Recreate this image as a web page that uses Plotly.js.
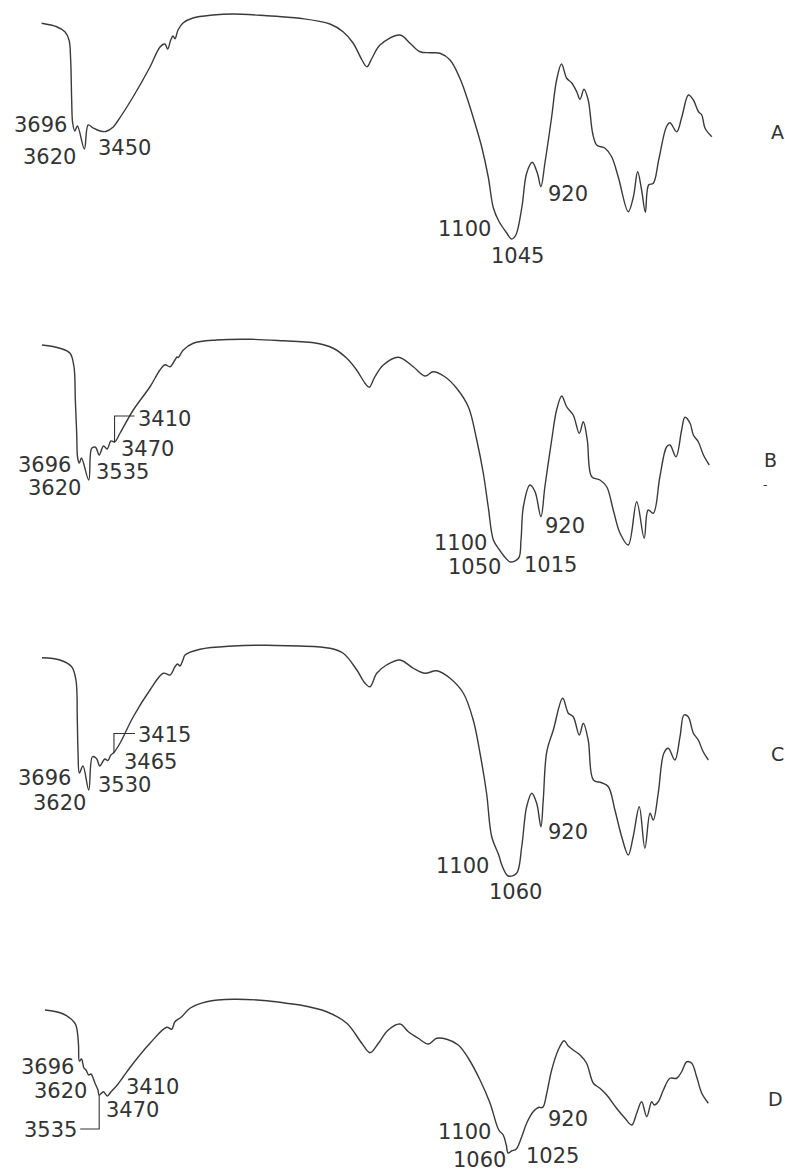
<!DOCTYPE html>
<html>
<head>
<meta charset="utf-8">
<script src="https://cdn.plot.ly/plotly-3.0.1.min.js"></script>
<style>
  html, body { margin: 0; padding: 0; background: #ffffff; }
  #chart { width: 785px; height: 1173px; }
</style>
</head>
<body>
<div id="chart"></div>
<script>
// Infrared spectra A-D: wavenumber (cm-1) and transmittance (arbitrary %, per spectrum)

const wnA = [3960, 3840, 3775, 3742, 3729, 3721, 3713, 3696, 3675, 3620, 3590, 3550, 3495, 3450, 3390, 3360, 3233, 3098, 3018, 2979, 2957, 2933, 2915, 2899, 2875, 2835, 2756, 2597, 2438, 2167, 2000,
  1949, 1821, 1765, 1722, 1684, 1663, 1641, 1607, 1522, 1479, 1436, 1394, 1351, 1308, 1266, 1237, 1202, 1173, 1145, 1123, 1100, 1066, 1045, 1027, 1001, 981, 957, 935, 920, 903, 874, 853, 832, 810, 789, 767, 753, 736, 718, 699, 682, 646, 618, 590, 547, 525, 507, 490, 474, 460, 440, 417, 384, 369, 340, 318, 290, 269, 247, 233, 219, 190];
const tA = [90.7, 89.3, 87.3, 84, 76, 60, 50.8, 47.6, 49.6, 40.4, 50, 48.8, 47.6, 47.4, 49.2, 51.2, 61.2, 73.2, 81.2, 82.4, 80.4, 84, 85.6, 84.5, 88, 90.8, 92.8, 94, 94.4, 93.7, 93.1,
  92.7, 90.4, 87.3, 82.8, 76, 73.3, 76.8, 82, 86, 82.7, 79.3, 78.9, 78.7, 76, 68.7, 61.3, 50.8, 41.3, 29.3, 16.8, 11.6, 6.8, 4.4, 6, 17.3, 30.7, 35.1, 30.7, 25.3, 34.7, 53.3, 68, 74.4, 68.7, 66.9, 63.3, 60.3, 64.3, 60, 46.7, 42, 40.7, 37.3, 29.3, 15.3, 21.3, 31.3, 24, 15.1, 26, 26.7, 36, 49.3, 50.9, 47.3, 53.3, 62, 60, 55.3, 54, 48.7, 45.3];

const wnB = [4000, 3854, 3772, 3740, 3729, 3718, 3710, 3696, 3679, 3620, 3596, 3565, 3535, 3500, 3470, 3440, 3410, 3366, 3258, 3122, 3041, 3000, 2959, 2919, 2902, 2892, 2851, 2770, 2580, 2309, 2038, 2000,
  1877, 1807, 1749, 1707, 1671, 1653, 1629, 1593, 1529, 1465, 1415, 1380, 1330, 1280, 1230, 1194, 1166, 1145, 1123, 1100, 1078, 1050, 1015, 1005, 995, 967, 945, 920, 903, 874, 853, 831, 810, 782, 756, 739, 722, 703, 668, 639, 611, 582, 547, 511, 479, 462, 440, 412, 383, 369, 343, 319, 305, 283, 269, 248, 226, 201];
const tB = [92, 90.7, 88.7, 83.3, 70, 56.7, 46.8, 44.8, 46.8, 38, 50.7, 51.1, 48, 51.6, 50.4, 53.6, 53.2, 56.7, 66, 75.3, 82, 84.1, 83.3, 86, 87.2, 87, 90, 92.7, 94, 94.3, 93.7, 93.6,
  92.7, 90.7, 86.7, 82, 76.7, 75.1, 79.3, 84, 87.1, 83.3, 79.6, 81.3, 79.3, 74.7, 67.3, 54, 40.7, 27.3, 14, 10.4, 7.6, 5.2, 6.8, 14, 27.3, 36, 33.3, 23.3, 35.3, 54, 66, 71.6, 67.3, 64, 56.7, 61.3, 54, 39.3, 38, 35.3, 26, 16.7, 12, 29.3, 14.7, 26, 24.7, 39.3, 51.3, 52, 47.3, 58, 63.1, 60.7, 56, 53.3, 48, 44];

const wnC = [4000, 3854, 3759, 3724, 3713, 3707, 3696, 3667, 3620, 3590, 3557, 3530, 3490, 3465, 3440, 3415, 3366, 3258, 3122, 3014, 2959, 2919, 2898, 2878, 2854, 2837, 2715, 2445, 2173, 2000,
  1949, 1821, 1764, 1706, 1671, 1650, 1621, 1579, 1522, 1465, 1415, 1365, 1308, 1251, 1209, 1180, 1152, 1130, 1100, 1087, 1060, 1024, 1002, 981, 959, 938, 920, 910, 895, 867, 827, 803, 782, 756, 739, 718, 696, 661, 632, 604, 575, 547, 526, 500, 476, 454, 440, 419, 395, 376, 348, 326, 309, 291, 269, 248, 227, 205];
const tC = [89.3, 88.4, 85.7, 80.4, 64.4, 51.2, 43.2, 46, 36.4, 49.7, 49, 46, 48.8, 48.2, 50.4, 51.4, 55.1, 65.7, 76.4, 83.1, 82.4, 85.7, 86.8, 86, 88.4, 90.4, 92.7, 94, 94.3, 94.1,
  94, 93.1, 91.1, 84.4, 79.1, 77.7, 83.1, 86.4, 88.4, 85.1, 83.1, 84.1, 81.1, 75.1, 64.4, 51.1, 35.1, 17.7, 10.4, 6.4, 2, 3.1, 13.7, 29.7, 35.1, 31.1, 21.7, 32.4, 51.7, 60.4, 73.1, 67.1, 65.7, 58.4, 63.1, 56.4, 40.4, 39.3, 37.7, 28.4, 17.7, 10.4, 17.7, 29.7, 13.1, 27.1, 24.4, 35.1, 51.1, 53.1, 48.4, 57.7, 66.4, 65.7, 59.1, 56.4, 51.7, 48.4];

const wnD = [3976, 3827, 3732, 3715, 3703, 3696, 3679, 3659, 3642, 3620, 3602, 3569, 3545, 3535, 3500, 3470, 3439, 3410, 3388, 3339, 3258, 3122, 2986, 2946, 2919, 2864, 2797, 2661, 2445, 2173, 2000,
  1949, 1835, 1749, 1685, 1650, 1614, 1572, 1522, 1486, 1444, 1401, 1365, 1322, 1273, 1230, 1180, 1137, 1100, 1081, 1068, 1060, 1045, 1025, 1002, 981, 953, 927, 920, 910, 895, 874, 846, 821, 803, 782, 753, 725, 696, 668, 639, 597, 561, 532, 511, 490, 468, 447, 436, 419, 397, 369, 340, 319, 297, 276, 255, 233, 205];
const tD = [90, 88.4, 84.7, 82, 76, 69.6, 70.4, 66.8, 66, 64, 64.4, 60.7, 58, 56, 57.3, 55.6, 57.3, 58.8, 60, 63.3, 68.7, 76.7, 83.1, 82.3, 85.3, 87.3, 90.7, 93.3, 94.3, 93.7, 92.6,
  92, 89.3, 84.7, 76.7, 72.9, 76.7, 82, 84.4, 81.3, 78.7, 76.4, 78.7, 78.3, 76, 70.7, 62, 52.7, 42, 40, 36, 32.8, 33.6, 34.4, 39.3, 44.7, 49.3, 51.1, 50.9, 51.3, 56.7, 66, 74, 77.7, 75.6, 74, 72, 68.7, 60.7, 58.7, 56, 50.7, 46.7, 44, 48.7, 53.3, 47.3, 53.3, 52, 53.3, 58, 62.7, 62.7, 65.3, 69.3, 68.7, 63.3, 56.7, 52.7];

// Band positions marked on each spectrum (cm-1)
const bandsA = [3696, 3620, 3450, 1100, 1045, 920];
const bandsB = [3696, 3620, 3535, 3470, 3410, 1100, 1050, 1015, 920];
const bandsC = [3696, 3620, 3530, 3465, 3415, 1100, 1060, 920];
const bandsD = [3696, 3620, 3535, 3470, 3410, 1100, 1060, 1025, 920];

const sampleNames = ['A', 'B', 'C', 'D'];

// ---- drawing setup ----
const W = 785, H = 1173;
const BREAK = 2000;          // scale change of the wavenumber axis
const PX_PER_UNIT = 2.5;     // vertical pixels per transmittance unit
const SPLIT_PX = 288, RIGHT_END_PX = 714.2;
const LINE = '#3a3a3a', INK = '#333333';
const FONT = 'DejaVu Sans';
const LABEL_SIZE = 21;

// label placement: [xanchor, xshift, yshift] in pixels, same order as the band lists
const placement = {
  A: [['right', -7, 6], ['right', -7, -8], ['left', -9, -16], ['right', -7, -8], ['center', 6, -17], ['left', 6, -7]],
  B: [['right', -7, -2], ['right', -7, -8], ['left', -4, -17], ['left', 13, 0], ['left', 22, 23], ['right', -11, 6], ['right', -8, -5], ['left', 4, -7], ['left', 3, -9]],
  C: [['right', -7, -5], ['right', -2, -13], ['left', -3, -19], ['left', 15, -1], ['left', 23, 18], ['right', -9, -11], ['center', 7, -16], ['left', 6, -5]],
  D: [['right', -4, -6], ['right', -1, -16], ['right', -21, -35], ['left', -2, -14], ['left', 10, 1], ['right', -7, -2], ['right', -1, -7], ['left', 9, -7], ['left', 6, -11]]
};
// leader lines (pixel paths relative to the band point)
const leaders = {
  B: [[3410, 'M0,0 V26 H20']],
  C: [[3415, 'M0,0 V19 H21']],
  D: [[3535, 'M0,0 V-34 H-19']]
};

const panels = [
  { name: 'A', wn: wnA, t: tA, bands: bandsA, leftPx: 36.6, zeroPx: 250, letter: [777, 132] },
  { name: 'B', wn: wnB, t: tB, bands: bandsB, leftPx: 42, zeroPx: 575, letter: [770, 460] },
  { name: 'C', wn: wnC, t: tC, bands: bandsC, leftPx: 42, zeroPx: 881, letter: [777, 754] },
  { name: 'D', wn: wnD, t: tD, bands: bandsD, leftPx: 42, zeroPx: 1235, letter: [775, 1099] }
];

const traces = [];
const annotations = [];
const shapes = [];
const layout = {
  width: W, height: H,
  margin: { l: 0, r: 0, t: 0, b: 0 },
  paper_bgcolor: '#ffffff', plot_bgcolor: '#ffffff',
  showlegend: false,
  annotations: annotations,
  shapes: shapes
};

const axKey = (p, n) => p + 'axis' + (n === 1 ? '' : n);
const axId = (p, n) => p + (n === 1 ? '' : n);

panels.forEach((pn, i) => {
  const yn = i + 1, xl = 2 * i + 1, xr = 2 * i + 2;
  const topPx = pn.zeroPx - 100 * PX_PER_UNIT;
  const botPx = Math.min(pn.zeroPx, H);

  layout[axKey('y', yn)] = {
    domain: [1 - botPx / H, 1 - topPx / H],
    range: [(pn.zeroPx - botPx) / PX_PER_UNIT, 100],
    visible: false, fixedrange: true, anchor: axId('x', xl)
  };
  layout[axKey('x', xl)] = {
    domain: [pn.leftPx / W, SPLIT_PX / W], range: [4000, BREAK],
    visible: false, fixedrange: true, anchor: axId('y', yn)
  };
  layout[axKey('x', xr)] = {
    domain: [SPLIT_PX / W, RIGHT_END_PX / W], range: [BREAK, 180],
    visible: false, fixedrange: true, anchor: axId('y', yn)
  };

  const n = Math.min(pn.wn.length, pn.t.length);
  const hiX = [], hiY = [], loX = [], loY = [];
  for (let k = 0; k < n; k++) {
    if (pn.wn[k] >= BREAK) { hiX.push(pn.wn[k]); hiY.push(pn.t[k]); }
    if (pn.wn[k] <= BREAK) { loX.push(pn.wn[k]); loY.push(pn.t[k]); }
  }
  const lineStyle = { color: LINE, width: 1.4, shape: 'spline', smoothing: 1 };
  traces.push({ type: 'scatter', mode: 'lines', x: hiX, y: hiY, xaxis: axId('x', xl), yaxis: axId('y', yn), line: lineStyle, hoverinfo: 'skip' });
  traces.push({ type: 'scatter', mode: 'lines', x: loX, y: loY, xaxis: axId('x', xr), yaxis: axId('y', yn), line: lineStyle, hoverinfo: 'skip' });

  const valueAt = w => pn.t[pn.wn.indexOf(w)];
  const xref = w => (w >= BREAK ? axId('x', xl) : axId('x', xr));

  pn.bands.forEach((b, k) => {
    const pl = placement[pn.name][k];
    annotations.push({
      x: b, y: valueAt(b), xref: xref(b), yref: axId('y', yn),
      text: String(b), showarrow: false, borderpad: 0,
      xanchor: pl[0], yanchor: 'middle', xshift: pl[1], yshift: pl[2],
      font: { family: FONT, size: LABEL_SIZE, color: INK }
    });
  });

  (leaders[pn.name] || []).forEach(([b, path]) => {
    shapes.push({
      type: 'path', xref: xref(b), yref: axId('y', yn),
      xsizemode: 'pixel', ysizemode: 'pixel', xanchor: b, yanchor: valueAt(b),
      path: path, line: { color: INK, width: 1.1 }
    });
  });

  annotations.push({
    x: pn.letter[0] / W, y: 1 - pn.letter[1] / H, xref: 'paper', yref: 'paper',
    text: sampleNames[i], showarrow: false, xanchor: 'center', yanchor: 'middle',
    font: { family: FONT, size: 19, color: INK }
  });
});

// small tick mark printed beneath label B
annotations.push({
  x: 765 / W, y: 1 - 485 / H, xref: 'paper', yref: 'paper', text: '-', showarrow: false,
  xanchor: 'center', yanchor: 'middle', font: { family: FONT, size: 12, color: INK }
});

Plotly.newPlot('chart', traces, layout, { displayModeBar: false, staticPlot: true });
</script>
</body>
</html>
